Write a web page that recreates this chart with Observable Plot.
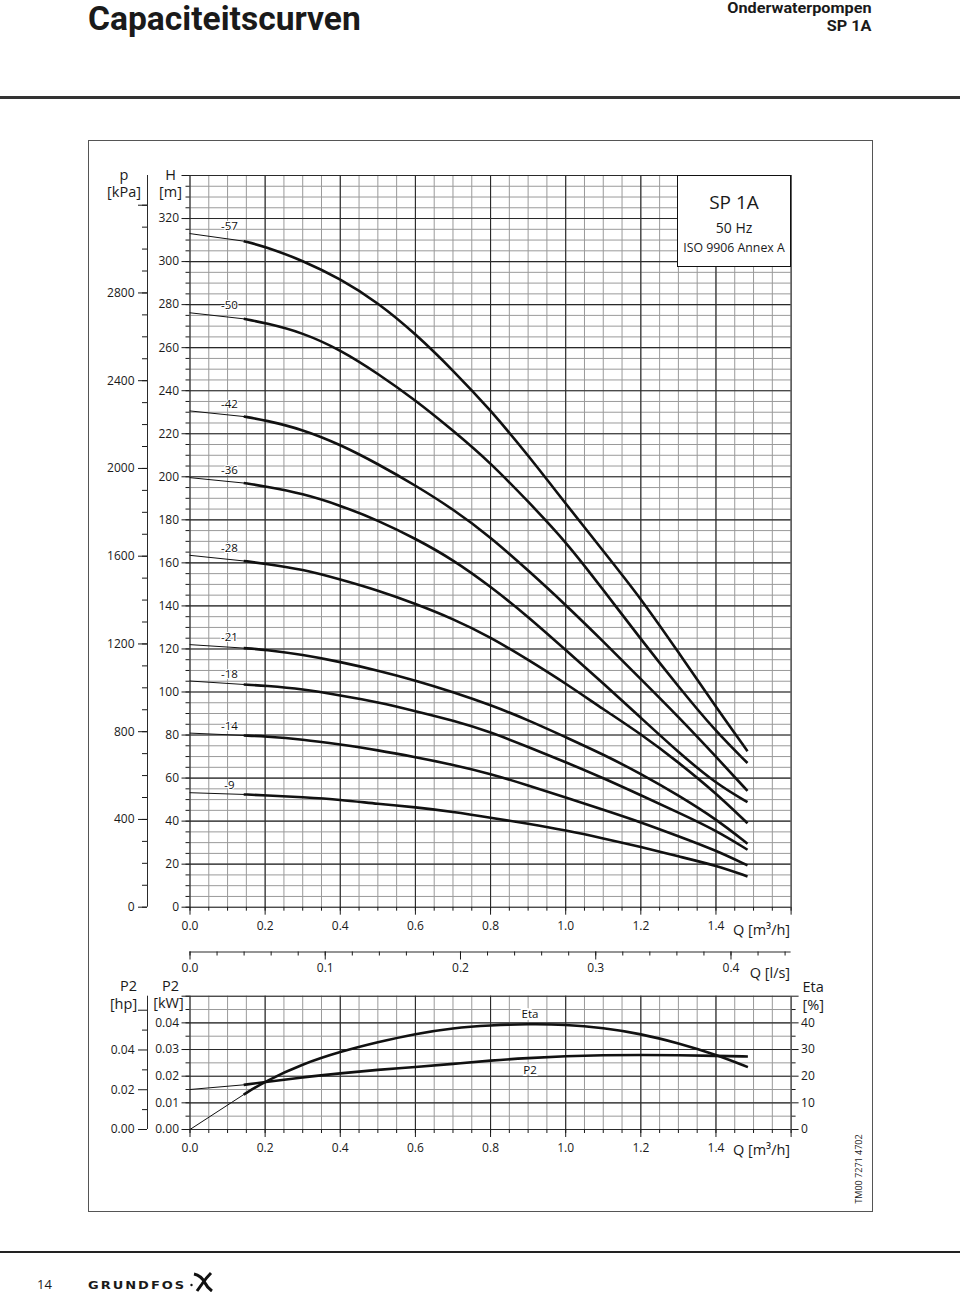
<!DOCTYPE html>
<html>
<head>
<meta charset="utf-8">
<script src="https://cdn.jsdelivr.net/npm/d3@7"></script>
<script src="https://cdn.jsdelivr.net/npm/@observablehq/plot@0.6"></script>
<style>
  html, body { margin: 0; padding: 0; background: #fff; }
  #page { position: relative; width: 960px; height: 1292px; overflow: hidden; font-family: "Open Sans", "Noto Sans", sans-serif; color: #1a1a1a; }
  .abs { position: absolute; }
  #title { left: 88px; top: 0px; font-family: Roboto, "Open Sans", sans-serif; font-size: 32.5px; font-weight: 700; line-height: 38.2px; white-space: nowrap; transform: scaleX(1.033); transform-origin: 0 0; }
  .sub { right: 89px; font-family: Roboto, "Open Sans", sans-serif; font-size: 15px; font-weight: 700; line-height: 17.6px; text-align: right; white-space: nowrap; transform: scaleX(1.08); transform-origin: 100% 0; }
  #rule-top { left: 0; top: 96px; width: 960px; height: 3px; background: #333; }
  #frame { left: 88px; top: 140px; width: 785px; height: 1072px; box-sizing: border-box; border: 1px solid #555; }
  #legend { left: 677px; top: 175px; width: 114px; height: 92px; box-sizing: border-box; border: 1.5px solid #111; background: #fff; text-align: center; z-index: 5; }
  #legend div { position: absolute; left: 0; right: 0; white-space: nowrap; }
  #code { left: 858px; top: 1169px; font-size: 9px; white-space: nowrap; transform: translate(-50%, -50%) rotate(-90deg); }
  #rule-bottom { left: 0; top: 1251px; width: 960px; height: 2px; background: #222; }
  #pageno { left: 37px; top: 1278px; font-size: 13px; line-height: 13px; }
  #brand { left: 88px; top: 1279px; font-family: "DejaVu Sans", sans-serif; font-weight: 700; font-size: 13px; line-height: 12px; letter-spacing: 2px; transform: scaleY(0.78); transform-origin: 0 100%; }
  #logo { left: 190px; top: 1271px; }
</style>
</head>
<body>
<div id="page">
  <div id="title" class="abs">Capaciteitscurven</div>
  <div class="abs sub" style="top:0px;">Onderwaterpompen</div>
  <div class="abs sub" style="top:17.7px;">SP 1A</div>
  <div id="rule-top" class="abs"></div>
  <div id="frame" class="abs"></div>
  <div id="topchart" class="abs" style="left:0;top:140px;"></div>
  <div id="bottomchart" class="abs" style="left:0;top:940px;"></div>
  <div id="legend" class="abs">
    <div style="top:14px;font-size:19px;line-height:24px;">SP 1A</div>
    <div style="top:43px;font-size:14px;line-height:18px;">50 Hz</div>
    <div style="top:64px;font-size:12.3px;line-height:16px;">ISO 9906 Annex A</div>
  </div>
  <div id="code" class="abs">TM00 7271 4702</div>
  <div id="rule-bottom" class="abs"></div>
  <div id="pageno" class="abs">14</div>
  <div id="brand" class="abs">GRUNDFOS</div>
  <svg id="logo" class="abs" width="24" height="21" viewBox="0 0 24 21">
    <circle cx="1.5" cy="14" r="1.2" fill="#111"/>
    <path d="M4 3 C9 4 13 8 15 12 C17 16 19 18 22 20" stroke="#111" stroke-width="3" fill="none"/>
    <path d="M21 2 C17 6 14 10 12 13 L7 20" stroke="#111" stroke-width="3" fill="none"/>
  </svg>
</div>
<script>
// ---------- data: head curves (Q in m³/h, H in m) ----------
const flowQ = [0, 0.143, 0.2, 0.3, 0.4, 0.5, 0.6, 0.7, 0.8, 0.9, 1.0, 1.1, 1.2, 1.3, 1.4, 1.484];
const stages = ["-57", "-50", "-42", "-36", "-28", "-21", "-18", "-14", "-9"];
const head57 = [313, 309.5, 307, 300.5, 292, 281, 266.5, 249.5, 231, 210, 187.5, 165.5, 143.5, 118.5, 93, 72.5];
const head50 = [276.2, 273.4, 271.5, 267, 259, 248, 235.6, 221.5, 206.5, 188.5, 170, 147.5, 124.5, 102.5, 81.5, 67];
const head42 = [230.6, 228, 226.3, 222, 215, 206, 196, 185, 172, 156.5, 140.5, 123.5, 106, 88.5, 70, 54];
const head36 = [199.6, 197.1, 195.6, 192.2, 186.7, 179.8, 171.3, 161.5, 149, 135, 119.5, 104, 88, 72, 57.4, 48.8];
const head28 = [163.5, 160.9, 159.6, 157, 152.3, 147.2, 141, 134, 125.5, 115, 104, 92, 80.5, 67.4, 53, 39];
const head21 = [122, 120.4, 119.7, 117.3, 114, 110, 105.4, 100, 94, 87, 79, 71, 62, 52, 41, 29.5];
const head18 = [105.1, 103.5, 102.9, 101.4, 98.4, 95.3, 91.1, 86.8, 81.4, 74.5, 67.4, 60, 52, 44, 35.7, 26.7];
const head14 = [80.9, 79.8, 79.4, 78, 75.6, 73, 69.7, 66.2, 62, 56.6, 51, 45.3, 39.5, 33, 26.4, 19.4];
const head9  = [53.2, 52.4, 52, 51.1, 50, 48, 46.5, 44.3, 41.6, 38.8, 35.7, 32, 28, 23.6, 19.4, 14.3];
const stageHeads = [head57, head50, head42, head36, head28, head21, head18, head14, head9];

// ---------- data: power / efficiency ----------
const flowQ2 = [0, 0.143, 0.2, 0.3, 0.4, 0.5, 0.6, 0.7, 0.8, 0.9, 1.0, 1.1, 1.2, 1.3, 1.4, 1.485];
const etaPct = [0, 13.1, 18.1, 24.6, 29.2, 32.8, 35.9, 38.1, 39.1, 39.6, 39.4, 38.1, 35.9, 32.4, 28.1, 23.4];
const p2kW  = [0.0150, 0.01675, 0.01775, 0.0196, 0.0211, 0.0224, 0.0234, 0.0246, 0.0259, 0.0268, 0.0275, 0.0279, 0.0280, 0.0279, 0.0276, 0.0274];

// ---------- tick labels ----------
const qTicks = [0, 0.2, 0.4, 0.6, 0.8, 1.0, 1.2, 1.4, 1.6];
const hTicks = [0, 20, 40, 60, 80, 100, 120, 140, 160, 180, 200, 220, 240, 260, 280, 300, 320];
const pTicks = [0, 400, 800, 1200, 1600, 2000, 2400, 2800];
const lpsTicks = [0, 0.1, 0.2, 0.3, 0.4];
const kwTicks = [0, 0.01, 0.02, 0.03, 0.04];
const hpTicks = [0, 0.02, 0.04];
const etaTicks = [0, 10, 20, 30, 40];

// ---------- constants / style ----------
const thickStartQ = 0.143;
const labelQ = 0.105;
const KPA_PER_M = 9.81;
const KW_PER_HP = 0.7457;
const M3H_PER_LPS = 3.6;
const majorC = "#2a2a2a", minorC = "#9a9a9a", ink = "#111";
const FONT = "'Open Sans', 'Noto Sans', sans-serif";
const svgStyle = {background: "transparent", color: "#1a1a1a", fontFamily: FONT, fontSize: "12px", overflow: "visible"};

const rows = stages.flatMap((s, i) => flowQ.map((q, j) => ({stage: s, q, h: stageHeads[i][j]})));
const stageLabelRows = stages.map((s, i) => ({stage: s, h: stageHeads[i][0]}));

const minorQ = d3.range(0, 32.5).map(i => i * 0.05);
const minorH = d3.range(0, 69).map(i => i * 5);
const majorH = d3.range(0, 18).map(i => i * 20);
const pMinor = d3.range(0, 33).map(i => i * 100);

const title = (t, anchor, dx, dy, textAnchor) =>
  Plot.text([t], {frameAnchor: anchor, text: d => d, dx, dy, fontSize: 14.5, textAnchor, lineAnchor: "middle"});

const topChart = Plot.plot({
  width: 960, height: 805,
  marginLeft: 189.5, marginRight: 169.4, marginTop: 35, marginBottom: 38.3,
  x: {domain: [0, 1.6], label: null},
  y: {domain: [0, 340], label: null},
  style: svgStyle,
  marks: [
    Plot.ruleX(minorQ, {stroke: minorC, strokeWidth: 1}),
    Plot.ruleY(minorH, {stroke: minorC, strokeWidth: 1}),
    Plot.ruleX(qTicks, {stroke: majorC, strokeWidth: 1.1}),
    Plot.ruleY(majorH, {stroke: majorC, strokeWidth: 1.1}),
    Plot.line(rows, {filter: d => d.q <= thickStartQ, x: "q", y: "h", z: "stage", stroke: ink, strokeWidth: 1}),
    Plot.line(rows, {filter: d => d.q >= thickStartQ, x: "q", y: "h", z: "stage", stroke: ink, strokeWidth: 2.6, curve: "basis", strokeLinecap: "butt"}),
    Plot.text(stageLabelRows, {x: labelQ, y: "h", text: "stage", dy: -7, fontSize: 11.5, fill: ink, stroke: "white", strokeWidth: 2, paintOrder: "stroke"}),
    // Q axis (bottom)
    Plot.axisX(qTicks, {anchor: "bottom", tickSize: 8, tickPadding: 6, fontSize: 12, tickFormat: d => d > 1.5 ? "" : d.toFixed(1), label: null}),
    Plot.axisX(minorQ, {anchor: "bottom", tickSize: 4, tickFormat: () => "", label: null}),
    // H axis
    Plot.axisY(hTicks.concat([340]), {anchor: "left", tickSize: 8, tickPadding: 3, fontSize: 12, tickFormat: d => d > 330 ? "" : String(d), label: null}),
    Plot.axisY(minorH, {anchor: "left", tickSize: 4, tickFormat: () => "", label: null}),
    // p axis
    Plot.ruleX([0], {dx: -42.5, stroke: majorC}),
    Plot.axisY(pTicks.concat([3200]).map(p => p / KPA_PER_M), {anchor: "left", dx: -42.5, tickSize: 9, tickPadding: 4, fontSize: 12, tickFormat: h => { const p = Math.round(h * KPA_PER_M); return p > 3000 ? "" : String(p); }, label: null}),
    Plot.axisY(pMinor.map(p => p / KPA_PER_M), {anchor: "left", dx: -42.5, tickSize: 5, tickFormat: () => "", label: null}),
    // axis titles
    title("p", "top-left", -66, 0, "middle"),
    title("[kPa]", "top-left", -66, 17, "middle"),
    title("H", "top-left", -19.5, 0, "middle"),
    title("[m]", "top-left", -19.5, 17, "middle"),
    title("Q [m³/h]", "bottom-right", -1, 23, "end")
  ]
});
document.getElementById("topchart").append(topChart);

// ---------- bottom chart ----------
const powerRows = flowQ2.map((q, i) => ({q, eta: etaPct[i] / 1000, p2: p2kW[i]}));
const lpsMinor = d3.range(0, 23).map(i => i * 0.02);
const kwMinor = d3.range(0, 11).map(i => i * 0.005);
const kwMajor = d3.range(0, 6).map(i => i * 0.01);
const axisShift = -177.5;

const bottomChart = Plot.plot({
  width: 960, height: 225,
  marginLeft: 189.5, marginRight: 169.4, marginTop: 55.7, marginBottom: 36,
  x: {domain: [0, 1.6], label: null},
  y: {domain: [0, 0.05], label: null},
  style: svgStyle,
  marks: [
    Plot.ruleX(minorQ, {stroke: minorC, strokeWidth: 1}),
    Plot.ruleY(kwMinor, {stroke: minorC, strokeWidth: 1}),
    Plot.ruleX(qTicks, {stroke: majorC, strokeWidth: 1.1}),
    Plot.ruleY(kwMajor, {stroke: majorC, strokeWidth: 1.1}),
    Plot.line(powerRows, {filter: d => d.q <= thickStartQ, x: "q", y: "eta", stroke: ink, strokeWidth: 1}),
    Plot.line(powerRows, {filter: d => d.q >= thickStartQ, x: "q", y: "eta", stroke: ink, strokeWidth: 2.6, curve: "basis", strokeLinecap: "butt"}),
    Plot.line(powerRows, {filter: d => d.q <= thickStartQ, x: "q", y: "p2", stroke: ink, strokeWidth: 1}),
    Plot.line(powerRows, {filter: d => d.q >= thickStartQ, x: "q", y: "p2", stroke: ink, strokeWidth: 2.6, curve: "basis", strokeLinecap: "butt"}),
    Plot.text(["Eta"], {x: 0.905, y: 0.0431, text: d => d, fontSize: 11.5, fill: ink, stroke: "white", strokeWidth: 4, paintOrder: "stroke"}),
    Plot.text(["P2"], {x: 0.905, y: 0.0221, text: d => d, fontSize: 11.5, fill: ink, stroke: "white", strokeWidth: 4, paintOrder: "stroke"}),
    // Q axis bottom
    Plot.axisX(qTicks, {anchor: "bottom", tickSize: 8, tickPadding: 6, fontSize: 12, tickFormat: d => d > 1.5 ? "" : d.toFixed(1), label: null}),
    Plot.axisX(minorQ, {anchor: "bottom", tickSize: 4, tickFormat: () => "", label: null}),
    // Q [l/s] axis drawn above the grid
    Plot.ruleY([0], {dy: axisShift, stroke: majorC, strokeWidth: 1.2}),
    Plot.axisX(lpsTicks.map(l => l * M3H_PER_LPS), {anchor: "bottom", dy: axisShift, tickSize: 8, tickPadding: 3.5, fontSize: 12, tickFormat: q => (q / M3H_PER_LPS).toFixed(1), label: null}),
    Plot.axisX(lpsMinor.map(l => l * M3H_PER_LPS), {anchor: "bottom", dy: axisShift, tickSize: 4, tickFormat: () => "", label: null}),
    // P2 kW axis
    Plot.axisY(kwMajor, {anchor: "left", tickSize: 8, tickPadding: 3, fontSize: 12, tickFormat: d => d > 0.045 ? "" : d.toFixed(2), label: null}),
    Plot.axisY(kwMinor, {anchor: "left", tickSize: 4, tickFormat: () => "", label: null}),
    // P2 hp axis
    Plot.ruleX([0], {dx: -42.5, stroke: majorC}),
    Plot.axisY(hpTicks.concat([0.06]).map(h => h * KW_PER_HP), {anchor: "left", dx: -42.5, tickSize: 9, tickPadding: 4, fontSize: 12, tickFormat: k => { const h = k / KW_PER_HP; return h > 0.05 ? "" : h.toFixed(2); }, label: null}),
    Plot.axisY([0.01, 0.03, 0.05].map(h => h * KW_PER_HP), {anchor: "left", dx: -42.5, tickSize: 5, tickFormat: () => "", label: null}),
    // Eta axis right
    Plot.axisY(etaTicks.concat([50]).map(e => e / 1000), {anchor: "right", tickSize: 7, tickPadding: 3, fontSize: 12, tickFormat: e => { const v = Math.round(e * 1000); return v > 45 ? "" : String(v); }, label: null}),
    Plot.axisY([5, 15, 25, 35, 45].map(e => e / 1000), {anchor: "right", tickSize: 4, tickFormat: () => "", label: null}),
    // titles
    title("P2", "top-left", -61.5, -10, "middle"),
    title("[hp]", "top-left", -66.5, 8.5, "middle"),
    title("P2", "top-left", -19.5, -10, "middle"),
    title("[kW]", "top-left", -21.5, 7.3, "middle"),
    title("Eta", "top-right", 11.4, -9, "start"),
    title("[%]", "top-right", 11.4, 9, "start"),
    title("Q [l/s]", "top-right", -1, -23, "end"),
    title("Q [m³/h]", "bottom-right", -1, 21, "end")
  ]
});
document.getElementById("bottomchart").append(bottomChart);
</script>
</body>
</html>
